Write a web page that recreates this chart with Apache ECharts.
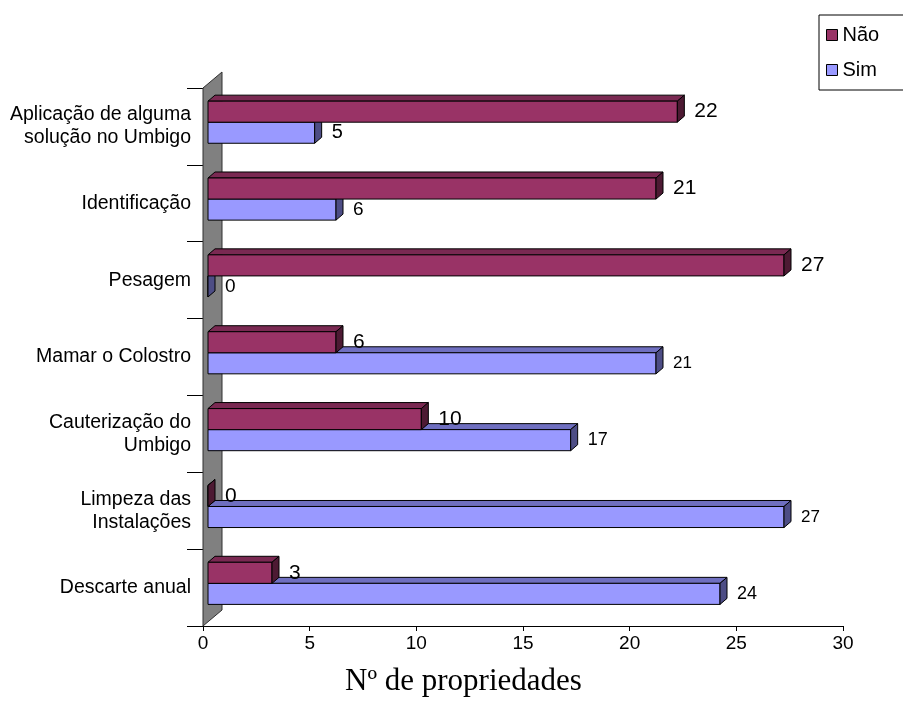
<!DOCTYPE html>
<html>
<head>
<meta charset="utf-8">
<script src="https://cdn.jsdelivr.net/npm/echarts@6/dist/echarts.min.js"></script>
<style>
  html, body { margin: 0; padding: 0; background: #fff; }
  #chart { width: 903px; height: 702px; }
</style>
</head>
<body>
<div id="chart"></div>
<script>
// Categories (top to bottom) and counts per answer
const categories = [
  'Aplicação de alguma\nsolução no Umbigo',
  'Identificação',
  'Pesagem',
  'Mamar o Colostro',
  'Cauterização do\nUmbigo',
  'Limpeza das\nInstalações',
  'Descarte anual'
];
const naoValues = [22, 21, 27, 6, 10, 0, 3];
const simValues = [5, 6, 0, 21, 17, 27, 24];
const xTicks = { min: 0, max: 30, interval: 5 };

// Label font sizes per row (style only)
const naoLabelSizes = [21, 21, 21, 21, 21, 21, 21];
const simLabelSizes = [20, 19, 19, 17, 18, 17, 18];

// 3D look: depth of each bar and of the back wall
const BAR_OFF_X = 5;
const BAR_DX = 7, BAR_DY = -6;
const WALL_DX = 19, WALL_DY = -16;
const FONT = '"Liberation Sans", Arial, sans-serif';

const palette = {
  nao: { front: '#993366', top: '#7a2952', side: '#4d1a33' },
  sim: { front: '#9999ff', top: '#6f6fc0', side: '#4d4d85' }
};

function barRenderer(slot, colors, sizes) {
  return function (params, api) {
    const v = api.value(0);
    const i = api.value(1);
    const start = api.coord([0, i]);
    const end = api.coord([v, i]);
    const band = api.size([0, 1])[1];
    const h = band * 0.274;
    const yTop = start[1] - band * 0.055 + (slot === 0 ? -h : 0);
    const yBot = yTop + h;
    const x0 = start[0] + BAR_OFF_X;
    const x1 = end[0] + BAR_OFF_X;
    const line = { stroke: '#000', lineWidth: 1 };
    return {
      type: 'group',
      children: [
        {
          type: 'polygon',
          shape: { points: [[x0, yTop], [x1, yTop], [x1 + BAR_DX, yTop + BAR_DY], [x0 + BAR_DX, yTop + BAR_DY]] },
          style: Object.assign({ fill: colors.top }, line)
        },
        {
          type: 'rect',
          shape: { x: x0, y: yTop, width: x1 - x0, height: h },
          style: Object.assign({ fill: colors.front }, line)
        },
        {
          type: 'polygon',
          shape: { points: [[x1, yTop], [x1 + BAR_DX, yTop + BAR_DY], [x1 + BAR_DX, yBot + BAR_DY], [x1, yBot]] },
          style: Object.assign({ fill: colors.side }, line)
        },
        {
          type: 'text',
          x: x1 + BAR_DX + 10,
          y: yTop + h / 2,
          style: {
            text: String(v),
            fill: '#000',
            font: sizes[params.dataIndex] + 'px ' + FONT,
            verticalAlign: 'middle',
            align: 'left'
          }
        }
      ]
    };
  };
}

function wallRenderer(params, api) {
  const band = api.size([0, 1])[1];
  const first = api.coord([0, 0]);
  const last = api.coord([0, categories.length - 1]);
  const x0 = first[0];
  const top = first[1] - band / 2;
  const bot = last[1] + band / 2;
  return {
    type: 'polygon',
    shape: { points: [[x0, top], [x0 + WALL_DX, top + WALL_DY], [x0 + WALL_DX, bot + WALL_DY], [x0, bot]] },
    style: { fill: '#808080', stroke: '#303030', lineWidth: 1 }
  };
}

const chart = echarts.init(document.getElementById('chart'));
chart.setOption({
  animation: false,
  backgroundColor: '#fff',
  grid: { left: 203, right: 60, top: 88, bottom: 76, containLabel: false },
  xAxis: {
    type: 'value',
    min: xTicks.min, max: xTicks.max, interval: xTicks.interval,
    axisLine: { show: true, lineStyle: { color: '#000', width: 1 } },
    axisTick: { show: true, length: 5, lineStyle: { color: '#000' } },
    axisLabel: { color: '#000', fontSize: 19, fontFamily: FONT, margin: 8 },
    splitLine: { show: false }
  },
  yAxis: {
    type: 'category',
    inverse: true,
    data: categories,
    axisLine: { show: true, lineStyle: { color: '#000', width: 1 } },
    axisTick: { show: true, length: 16, lineStyle: { color: '#000' } },
    axisLabel: { color: '#000', fontSize: 19.5, fontFamily: FONT, margin: 12, lineHeight: 23, align: 'right', padding: [3, 0, 0, 0] }
  },
  legend: {
    data: ['Não', 'Sim'],
    orient: 'vertical',
    left: 819, top: 15,
    padding: [10, 30, 10, 7],
    itemGap: 15,
    itemWidth: 11, itemHeight: 11,
    icon: 'rect',
    borderColor: '#000', borderWidth: 1,
    itemStyle: { borderColor: '#000', borderWidth: 1 },
    textStyle: { color: '#000', fontSize: 20, fontFamily: FONT, padding: [0, 0, 0, 0] }
  },
  graphic: [{
    type: 'text',
    left: 345, top: 666,
    style: { text: 'Nº de propriedades', font: '31px "Liberation Serif", "Times New Roman", serif', fill: '#000' }
  }],
  series: [
    {
      name: 'wall', type: 'custom', silent: true, z: 1,
      data: [[0, 0]], encode: { x: 0, y: 1 },
      renderItem: wallRenderer
    },
    {
      name: 'Sim', type: 'custom', z: 2,
      itemStyle: { color: palette.sim.front },
      data: simValues.map((v, i) => [v, i]), encode: { x: 0, y: 1 },
      renderItem: barRenderer(1, palette.sim, simLabelSizes)
    },
    {
      name: 'Não', type: 'custom', z: 3,
      itemStyle: { color: palette.nao.front },
      data: naoValues.map((v, i) => [v, i]), encode: { x: 0, y: 1 },
      renderItem: barRenderer(0, palette.nao, naoLabelSizes)
    }
  ]
});
</script>
</body>
</html>
